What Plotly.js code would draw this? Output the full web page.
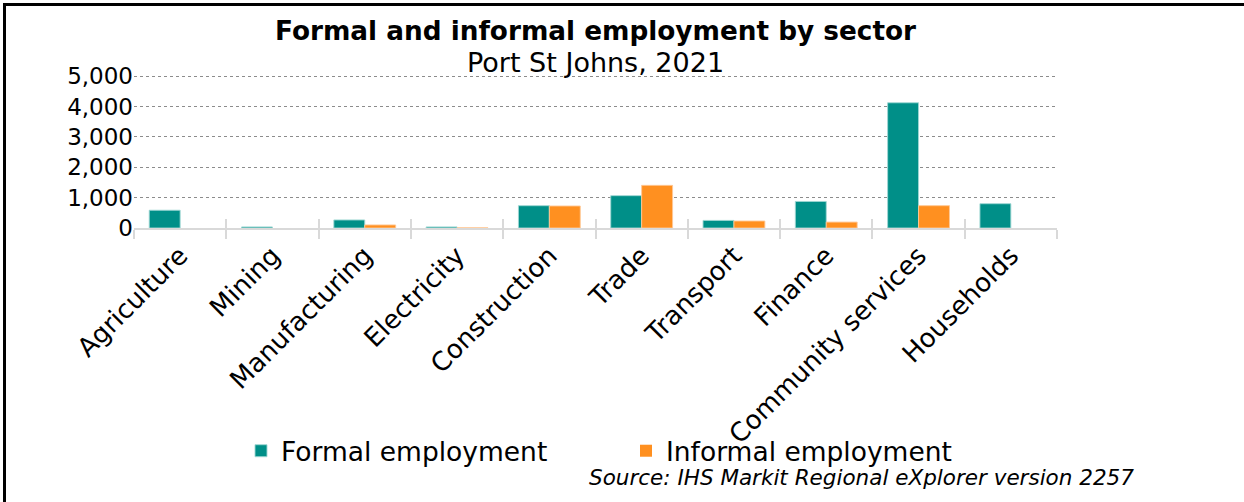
<!DOCTYPE html>
<html>
<head>
<meta charset="utf-8">
<script src="https://cdn.plot.ly/plotly-3.0.1.min.js"></script>
<style>
  html, body { margin: 0; padding: 0; background: #fff; }
  #wrap { position: relative; width: 1244px; height: 502px; overflow: hidden; }
  #chart { position: absolute; left: 0; top: 0; width: 1244px; height: 502px; }
  .bl { position: absolute; background: #000; pointer-events: none; }
</style>
</head>
<body>
<div id="wrap">
  <div id="chart"></div>
  <div class="bl" style="left:3px; top:3px; width:1241px; height:3px;"></div>
  <div class="bl" style="left:3px; top:3px; width:3px; height:499px;"></div>
</div>
<script>
const sectors = ["Agriculture", "Mining", "Manufacturing", "Electricity", "Construction",
                 "Trade", "Transport", "Finance", "Community services", "Households"];
const formalEmployment   = [585, 35, 265, 35, 735, 1065, 250, 875, 4125, 800];
const informalEmployment = [0, 0, 100, 5, 725, 1405, 230, 195, 735, 0];
const yTicks = [0, 1000, 2000, 3000, 4000, 5000];
const yTickLabels = ["0", "1,000", "2,000", "3,000", "4,000", "5,000"];

const FONT = "DejaVu Sans, Verdana, sans-serif";
const H = 502;
const xRange = [-0.5, sectors.length - 0.5];

const traces = [
  {
    type: "bar", name: "Formal employment", x: sectors, y: formalEmployment,
    marker: { color: "#008F88", line: { color: "rgba(160,215,212,0.9)", width: formalEmployment.map(v => v > 0 ? 1 : 0) } },
    hoverinfo: "x+y"
  },
  {
    type: "bar", name: "Informal employment", x: sectors, y: informalEmployment,
    marker: { color: "#FF9020", line: { color: "rgba(255,200,150,0.9)", width: informalEmployment.map(v => v > 0 ? 1 : 0) } },
    hoverinfo: "x+y"
  },
  {
    type: "scatter", mode: "markers", x: sectors, y: sectors.map(() => null),
    xaxis: "x2", yaxis: "y", showlegend: false, hoverinfo: "skip",
    marker: { opacity: 0 }
  }
];

const layout = {
  width: 1244, height: H,
  margin: { l: 134, r: 187, t: 75, b: 274 },
  paper_bgcolor: "#fff", plot_bgcolor: "#fff",
  font: { family: FONT, color: "#000" },
  title: {
    text: "<b>Formal and informal employment by sector</b>",
    font: { family: FONT, size: 26.3, color: "#000" },
    x: 0.5, xref: "paper", xanchor: "center",
    y: 1 - 31 / H, yref: "container", yanchor: "middle"
  },
  barmode: "group", bargap: 0.33, bargroupgap: 0,
  xaxis: {
    type: "category", range: xRange, autorange: false,
    tickangle: -45,
    tickfont: { family: FONT, size: 26, color: "#000" },
    showline: true, linecolor: "#d9d9d9", linewidth: 2,
    ticks: "outside", ticklen: 9, tickcolor: "#d9d9d9", tickwidth: 2,
    tickson: "boundaries",
    showgrid: false, zeroline: false,
    fixedrange: true
  },
  xaxis2: {
    type: "category", overlaying: "x", anchor: "y", side: "bottom",
    range: xRange, autorange: false,
    showticklabels: false, showline: false, showgrid: false, zeroline: false,
    ticks: "inside", ticklen: 9, tickcolor: "#d9d9d9", tickwidth: 2,
    tickson: "boundaries", fixedrange: true
  },
  yaxis: {
    range: [0, 5040],
    tickvals: yTicks, ticktext: yTickLabels,
    tickfont: { family: FONT, size: 23, color: "#000" },
    showgrid: true, gridcolor: "#8c8c8c", griddash: "dot", gridwidth: 1,
    zeroline: false, showline: false, ticks: "",
    ticklabelstandoff: 0,
    fixedrange: true
  },
  showlegend: true,
  legend: {
    orientation: "h",
    x: (241 - 134) / 923, xref: "paper", xanchor: "left",
    y: 1 - 451 / H, yref: "container", yanchor: "middle",
    font: { family: FONT, size: 26.5, color: "#000" },
    itemwidth: 30, tracegroupgap: 0,
    entrywidth: 340, entrywidthmode: "pixels",
    bgcolor: "rgba(0,0,0,0)"
  },
  annotations: [
    {
      text: "Port St Johns, 2021",
      xref: "paper", yref: "paper", x: 0.5, y: 1, yshift: 13,
      xanchor: "center", yanchor: "middle", showarrow: false,
      font: { family: FONT, size: 27, color: "#000" }
    },
    {
      text: "<i>Source: IHS Markit Regional eXplorer version 2257</i>",
      xref: "paper", yref: "paper", x: (1136 - 134) / 923, y: 0, yshift: -249,
      xanchor: "right", yanchor: "middle", showarrow: false,
      font: { family: FONT, size: 21.5, color: "#000" }
    }
  ]
};

Plotly.newPlot("chart", traces, layout, { displayModeBar: false, staticPlot: true });
</script>
</body>
</html>
